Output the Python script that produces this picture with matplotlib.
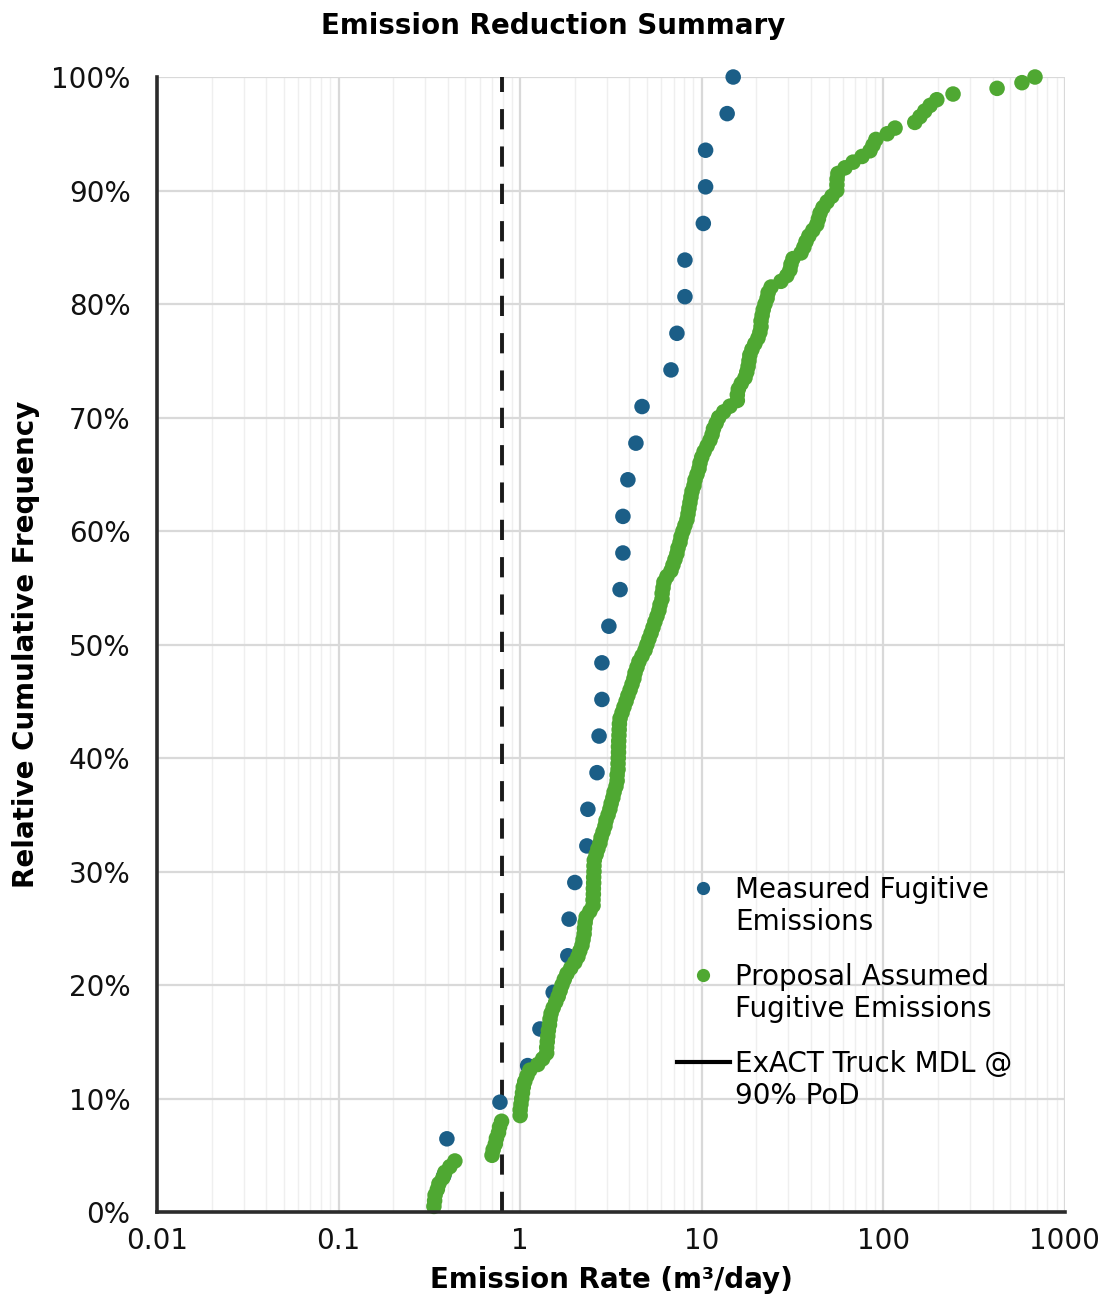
import numpy as np
import matplotlib
matplotlib.use("Agg")
import matplotlib.pyplot as plt
from matplotlib.lines import Line2D
from matplotlib.legend_handler import HandlerLine2D
from matplotlib.ticker import FixedLocator, FixedFormatter, LogLocator, NullFormatter

# ---------------- data (emission rates, m3/day) ----------------
measured_emissions = [
    0.38, 0.395, 0.774, 1.10, 1.285, 1.52, 1.83, 1.86, 2.00, 2.33, 2.36,
    2.65, 2.72, 2.82, 2.82, 3.08, 3.55, 3.68, 3.68, 3.92, 4.34, 4.69,
    6.77, 7.30, 8.08, 8.08, 10.2, 10.5, 10.5, 13.8, 14.9,
]

proposal_emissions = [
    0.335, 0.338, 0.34, 0.35, 0.357, 0.375, 0.385, 0.41, 0.437,
    0.70, 0.71, 0.73, 0.74, 0.76, 0.77, 0.79,
    1.00, 1.00, 1.01, 1.02, 1.03, 1.04, 1.06, 1.09, 1.13, 1.25,
    1.33, 1.40, 1.40, 1.41, 1.42, 1.43, 1.45, 1.46, 1.48, 1.52,
    1.57, 1.62, 1.66, 1.70, 1.75, 1.81, 1.90, 2.00, 2.08, 2.13,
    2.19, 2.22, 2.25, 2.26, 2.28, 2.31, 2.42, 2.52, 2.52, 2.53,
    2.53, 2.54, 2.54, 2.55, 2.55, 2.56, 2.62, 2.68, 2.75, 2.79,
    2.86, 2.93, 2.97, 3.05, 3.12, 3.17, 3.24, 3.29, 3.37, 3.42,
    3.42, 3.46, 3.46, 3.47, 3.48, 3.48, 3.49, 3.50, 3.51, 3.52,
    3.55, 3.64, 3.73, 3.83, 3.92, 4.03, 4.13, 4.23, 4.29, 4.40,
    4.51, 4.69, 4.87, 4.99, 5.12, 5.26, 5.39, 5.52, 5.67, 5.81,
    5.89, 6.04, 6.05, 6.12, 6.19, 6.43, 6.77, 6.94, 7.12, 7.30,
    7.40, 7.59, 7.69, 7.88, 8.08, 8.29, 8.40, 8.50, 8.61, 8.72,
    8.84, 9.06, 9.18, 9.42, 9.66, 9.78, 10.0, 10.3, 10.7, 11.1,
    11.4, 11.6, 12.0, 12.4, 13.2, 14.3, 15.7, 15.7, 15.9, 16.5,
    17.3, 17.7, 18.0, 18.2, 18.4, 18.9, 19.6, 20.4, 20.9, 21.2,
    21.2, 21.5, 21.8, 22.3, 22.9, 23.2, 24.1, 27.3, 29.4, 30.6,
    31.0, 31.8, 35.2, 36.5, 37.5, 38.9, 40.9, 43.0, 43.9, 44.8,
    46.5, 49.0, 52.1, 55.4, 55.5, 55.6, 56.2, 61.5, 68.1, 76.3,
    84.4, 87.7, 91.0, 105, 116, 149, 159, 169, 181, 197,
    242, 423, 580, 684,
]

mdl_value = 0.794  # ExACT Truck MDL @ 90% PoD

x_ticks = [0.01, 0.1, 1, 10, 100, 1000]
x_tick_labels = ["0.01", "0.1", "1", "10", "100", "1000"]
y_ticks = [0, 10, 20, 30, 40, 50, 60, 70, 80, 90, 100]
y_tick_labels = ["0%", "10%", "20%", "30%", "40%", "50%",
                 "60%", "70%", "80%", "90%", "100%"]

series_labels = ["Measured Fugitive\nEmissions",
                 "Proposal Assumed\nFugitive Emissions",
                 "ExACT Truck MDL @\n90% PoD"]

blue = "#1b5e87"
green = "#4fa832"


def ecdf(values):
    v = np.sort(np.asarray(values, dtype=float))
    return v, np.arange(1, len(v) + 1) / len(v) * 100.0


class FirstLineHandler(HandlerLine2D):
    """Legend handler that lifts the handle up to the first line of a two-line label."""

    def __init__(self, dy, **kw):
        super().__init__(**kw)
        self.dy = dy

    def create_artists(self, legend, orig_handle, xdescent, ydescent, width,
                       height, fontsize, trans):
        artists = super().create_artists(legend, orig_handle, xdescent, ydescent,
                                         width, height, fontsize, trans)
        for a in artists:
            a.set_ydata(np.asarray(a.get_ydata(), dtype=float) + self.dy)
        return artists


plt.rcParams["font.family"] = ["DejaVu Sans"]

fig = plt.figure(figsize=(11.07, 13.03), dpi=100)
ax = fig.add_axes([0.1418, 0.0698, 0.8202, 0.8711])

ax.set_xscale("log")
ax.set_xlim(0.01, 1000)
ax.set_ylim(0, 100)

ax.xaxis.set_major_locator(FixedLocator(x_ticks))
ax.xaxis.set_major_formatter(FixedFormatter(x_tick_labels))
ax.xaxis.set_minor_locator(LogLocator(base=10, subs=np.arange(2, 10)))
ax.xaxis.set_minor_formatter(NullFormatter())
ax.yaxis.set_major_locator(FixedLocator(y_ticks))
ax.yaxis.set_major_formatter(FixedFormatter(y_tick_labels))

ax.grid(which="major", axis="both", color="#d9d9d9", lw=1.6, zorder=0)
ax.grid(which="minor", axis="x", color="#efefef", lw=1.0, zorder=0)
ax.set_axisbelow(True)

ax.axvline(mdl_value, color="#1a1a1a", lw=2.8, ls=(0, (5.2, 4.4)), zorder=2)

mx, my = ecdf(measured_emissions)
px, py = ecdf(proposal_emissions)
ax.scatter(mx, my, s=125, color=blue, edgecolors="none", zorder=3, clip_on=False)
ax.scatter(px, py, s=125, color=green, edgecolors="none", zorder=4, clip_on=False)

for side in ("top", "right"):
    ax.spines[side].set_visible(False)
for side in ("left", "bottom"):
    ax.spines[side].set_color("#2b2b2b")
    ax.spines[side].set_linewidth(2.6)
    ax.spines[side].set_zorder(5)

ax.tick_params(axis="both", which="both", length=0, labelsize=20, colors="#111111")
ax.tick_params(axis="x", pad=11)
ax.tick_params(axis="y", pad=19)

ax.set_xlabel("Emission Rate (m³/day)", fontsize=20, fontweight="bold", labelpad=8)
ax.set_ylabel("Relative Cumulative Frequency", fontsize=20, fontweight="bold", labelpad=8)

fig.text(0.5, 1 - 26 / 1303, "Emission Reduction Summary", ha="center", va="center",
         fontsize=20, fontweight="bold")

handles = [
    Line2D([], [], ls="none", marker="o", ms=9.5, color=blue, markeredgewidth=0),
    Line2D([], [], ls="none", marker="o", ms=9.5, color=green, markeredgewidth=0),
    Line2D([], [], color="black", lw=3),
]
ax.legend(handles, series_labels, loc="upper left", bbox_to_anchor=(0.5727, 0.296),
          frameon=False, fontsize=20, handlelength=1.9, handletextpad=0.2,
          labelspacing=0.95, borderpad=0, borderaxespad=0,
          handler_map={h: FirstLineHandler(14) for h in handles})

fig.savefig("out.png", dpi=100)
